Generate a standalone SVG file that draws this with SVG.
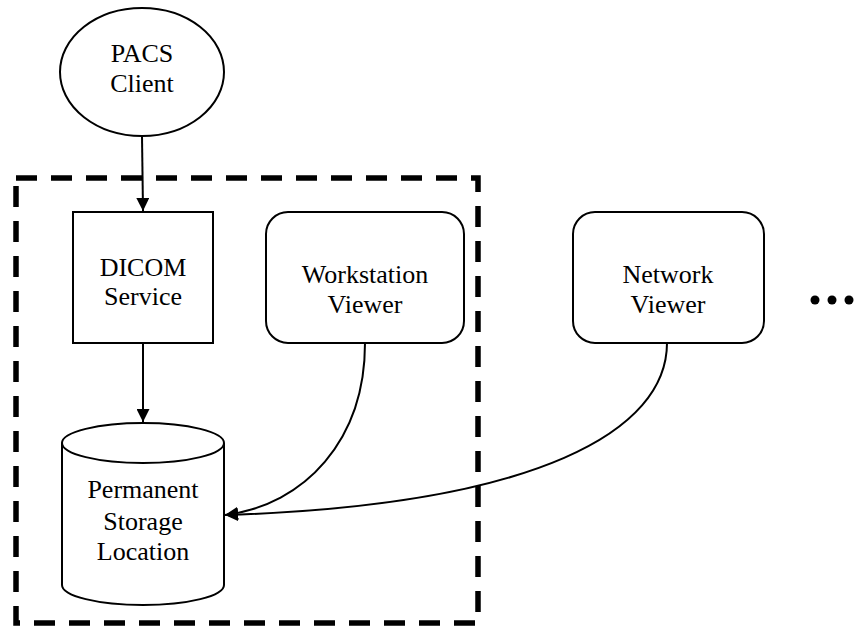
<svg xmlns="http://www.w3.org/2000/svg" width="855" height="629" viewBox="0 0 855 629">
<defs>
<style>
.n{fill:#fff;stroke:#000;stroke-width:2}
.t{font-family:"Liberation Serif","Times New Roman",serif;font-size:26px;fill:#000;text-anchor:middle}
.c{fill:none;stroke:#000;stroke-width:2}
</style>
<marker id="ah" markerWidth="13" markerHeight="13" refX="13" refY="6.5" orient="auto" markerUnits="userSpaceOnUse" viewBox="0 0 13 13"><path d="M0,0 L13,6.5 L0,13 z" fill="#000"/></marker>
</defs>
<rect x="16" y="178" width="462" height="445" fill="none" stroke="#000" stroke-width="5.5" stroke-dasharray="21,14"/>
<g id="pacs"><ellipse class="n" cx="142" cy="72" rx="82" ry="64"/><text class="t" x="142" y="62">PACS</text><text class="t" x="142" y="92">Client</text></g>
<g id="dicom"><rect class="n" x="73" y="212" width="140" height="131"/><text class="t" x="143" y="276">DICOM</text><text class="t" x="143" y="305">Service</text></g>
<g id="workstation"><rect class="n" x="266" y="212" width="198" height="131" rx="22"/><text class="t" x="365" y="283">Workstation</text><text class="t" x="365" y="313">Viewer</text></g>
<g id="network"><rect class="n" x="573" y="212" width="191" height="131" rx="22"/><text class="t" x="668" y="283">Network</text><text class="t" x="668" y="313">Viewer</text></g>
<g id="storage"><path class="n" d="M62,443 A81,20 0 0 1 224,443 L224,585 A81,20 0 0 1 62,585 Z"/><path class="c" d="M62,443 A81,20 0 0 0 224,443"/><text class="t" x="143" y="498">Permanent</text><text class="t" x="143" y="530">Storage</text><text class="t" x="143" y="560">Location</text></g>
<g id="more"><circle cx="815" cy="300" r="4.5"/><circle cx="832" cy="300" r="4.5"/><circle cx="849" cy="300" r="4.5"/></g>
<g id="connectors">
<path class="c" d="M142,136 L143,211" marker-end="url(#ah)"/>
<path class="c" d="M143,343 L143,422" marker-end="url(#ah)"/>
<path class="c" d="M365,343 C365,440 305,505 225,515" marker-end="url(#ah)"/>
<path class="c" d="M667,343 C667,430 540,505 225,515" marker-end="url(#ah)"/>
</g>
</svg>
